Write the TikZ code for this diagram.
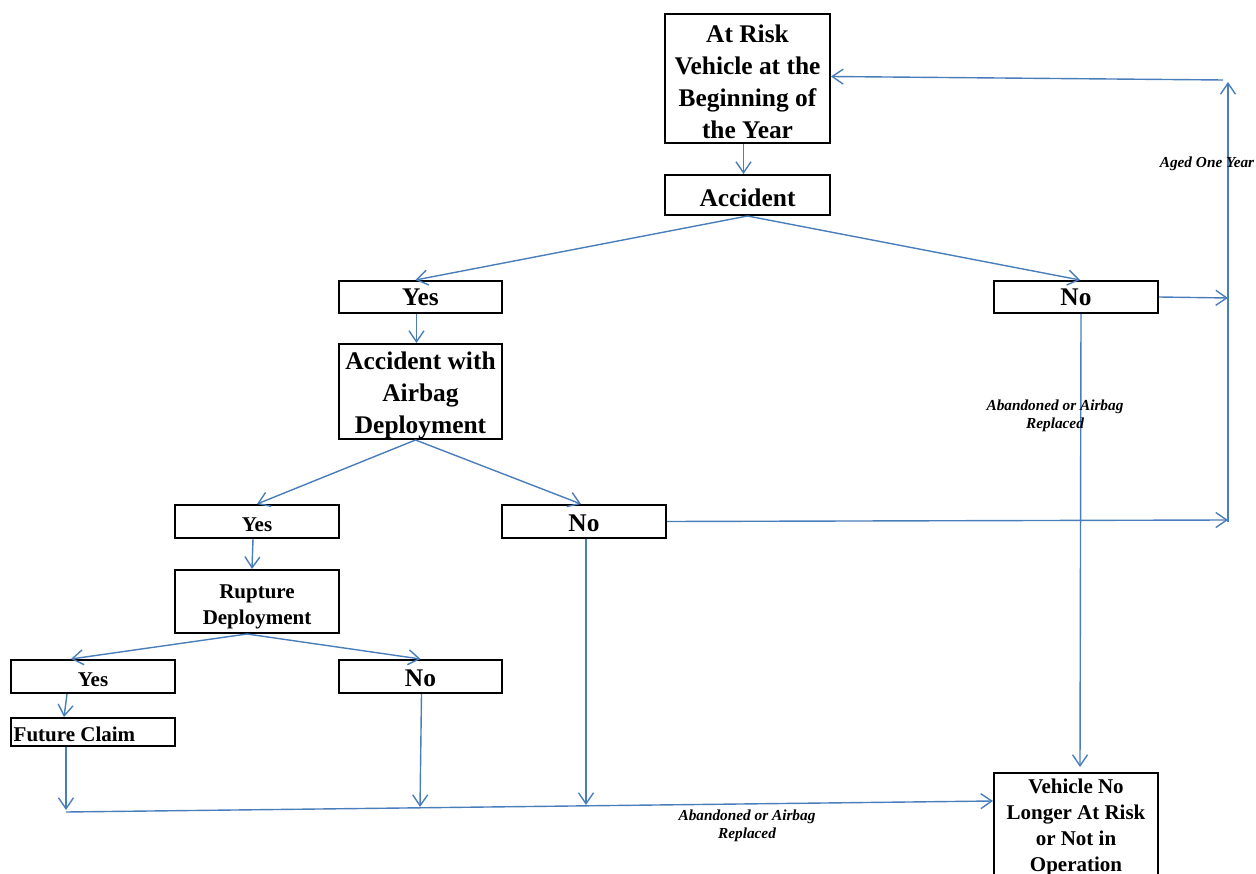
\documentclass[tikz,border=0pt]{standalone}
\usepackage{fontspec}
\setmainfont{Liberation Serif}
\usetikzlibrary{arrows.meta,calc}
\definecolor{conn}{RGB}{74,126,187}
\begin{document}
\begin{tikzpicture}[x=1pt,y=-1pt,
 frame/.style={draw=black,line width=2pt,inner sep=0pt},
 big/.style={inner sep=0pt,align=center,font=\bfseries\fontsize{25.4}{32}\selectfont},
 small/.style={inner sep=0pt,align=center,font=\bfseries\fontsize{21}{26}\selectfont},
 arr/.style={draw=conn,line width=1.4pt,-{Straight Barb[length=11pt,width=15pt,line width=1.4pt]}},
 lab/.style={font=\bfseries\itshape\fontsize{15.3}{18.5}\selectfont,align=center,inner sep=0pt}]
\clip (0,0) rectangle (1256,874);
% boxes
\node[frame,minimum width=165pt,minimum height=129pt] (top) at (747.5,78.5) {};
\node[big] (topt) at ([yshift=-3pt]top.center) {At Risk\\Vehicle at the\\Beginning of\\the Year};
\node[frame,minimum width=165pt,minimum height=40pt] (acc) at (747.5,195) {};
\node[big] (acct) at ([yshift=-3pt]acc.center) {Accident};
\node[frame,minimum width=163pt,minimum height=32pt] (yes1) at (420.5,297) {};
\node[big] (yes1t) at (yes1.center) {Yes};
\node[frame,minimum width=164pt,minimum height=32pt] (no1) at (1076,297) {};
\node[big] (no1t) at (no1.center) {No};
\node[frame,minimum width=163pt,minimum height=95pt] (awa) at (420.5,391.5) {};
\node[big] (awat) at ([yshift=-3.5pt]awa.center) {Accident with\\Airbag\\Deployment};
\node[frame,minimum width=164pt,minimum height=33pt] (yes2) at (257,521.5) {};
\node[small] (yes2t) at ([yshift=-3pt]yes2.center) {Yes};
\node[frame,minimum width=164pt,minimum height=33pt] (no2) at (584,521.5) {};
\node[big] (no2t) at ([yshift=-2pt]no2.center) {No};
\node[frame,minimum width=164pt,minimum height=63pt] (rup) at (257,601.5) {};
\node[small] (rupt) at ([yshift=-5pt]rup.center) {Rupture\\Deployment};
\node[frame,minimum width=164pt,minimum height=33pt] (yes3) at (93,676.5) {};
\node[small] (yes3t) at ([yshift=-3pt]yes3.center) {Yes};
\node[frame,minimum width=163pt,minimum height=33pt] (no3) at (420.5,676.5) {};
\node[big] (no3t) at ([yshift=-2pt]no3.center) {No};
\node[frame,minimum width=164pt,minimum height=28pt] (fc) at (93,732) {};
\node[small,anchor=west] (fct) at ([xshift=3.5pt,yshift=-2pt]fc.west) {Future Claim};
\node[frame,minimum width=164pt,minimum height=130pt,anchor=north] (veh) at (1076,772) {};
\node[small] (veht) at (1076,827.5) {Vehicle No\\Longer At Risk\\or Not in\\Operation};
% coordinates
\coordinate (fcd) at (66,810);
\coordinate (bl) at (66,812);
\coordinate (vin) at ($(veh.north west)+(0,29)$);
\coordinate (n3d) at (420,807);
\coordinate (n2d) at (586,805);
\coordinate (r1) at (1228,298);
\coordinate (r2) at (1228,520);
\coordinate (vb) at (1228,522);
\coordinate (vt) at (1228,82);
\coordinate (ht) at (1223,80);
% connectors
\draw[arr] ([xshift=-4pt]top.south) -- ([xshift=-4pt]acc.north);
\draw[arr] (acc.south) -- ([xshift=-5pt]yes1.north);
\draw[arr] (acc.south) -- ([xshift=4pt]no1.north);
\draw[arr] ([xshift=-4pt]yes1.south) -- ([xshift=-4pt]awa.north);
\draw[arr] ([xshift=-5pt]awa.south) -- (yes2.north);
\draw[arr] ([xshift=-5pt]awa.south) -- ([xshift=-3pt]no2.north);
\draw[arr] ([xshift=-4pt]yes2.south) -- ([xshift=-5pt]rup.north);
\draw[arr] ([xshift=-10pt]rup.south) -- ([xshift=-22pt]yes3.north);
\draw[arr] ([xshift=-10pt]rup.south) -- (no3.north);
\draw[arr] ([xshift=-26pt]yes3.south) -- ([xshift=-29pt]fc.north);
\draw[arr] ([xshift=-27pt]fc.south) -- (fcd);
\draw[arr] (bl) -- (vin);
\draw[arr] ([xshift=1pt]no3.south) -- (n3d);
\draw[arr] ([xshift=2pt]no2.south) -- (n2d);
\draw[arr] ([xshift=5pt]no1.south) -- ([xshift=4pt,yshift=5pt]veh.north);
\draw[arr] (no1.east) -- (r1);
\draw[arr] (no2.east) -- (r2);
\draw[arr] (vb) -- (vt);
\draw[arr] (ht) -- ([yshift=2pt]top.east);
% labels
\node[lab] (aged) at (1207,164) {Aged One Year};
\node[lab] (ab1) at (1055,416) {Abandoned or Airbag\\Replaced};
\node[lab] (ab2) at (747,826) {Abandoned or Airbag\\Replaced};
\end{tikzpicture}
\end{document}
